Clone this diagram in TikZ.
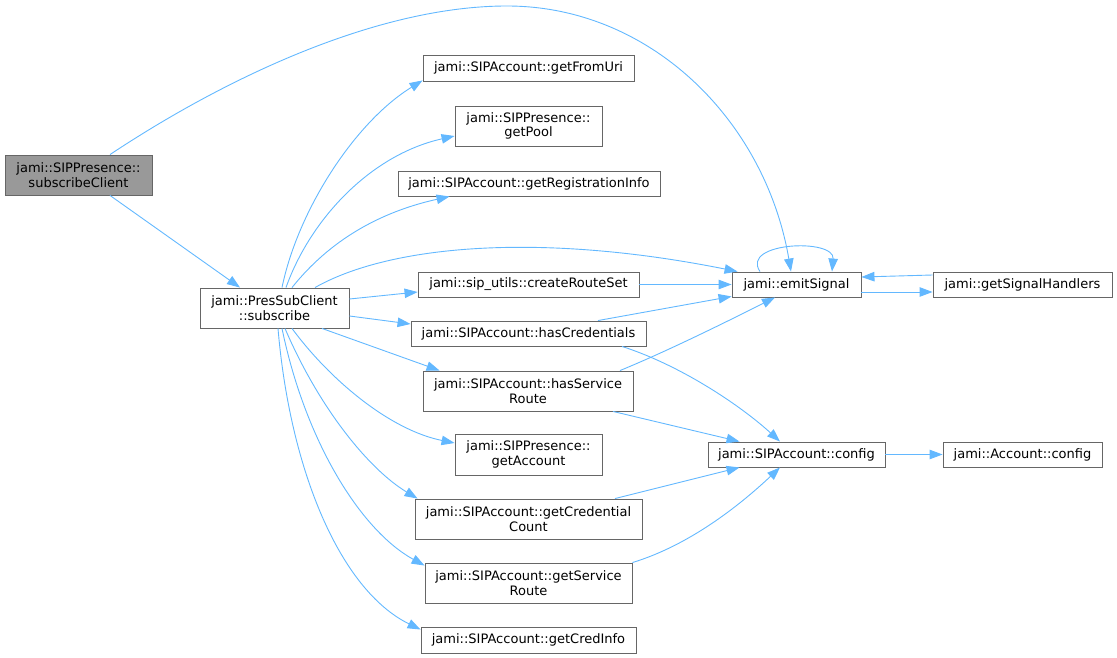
\documentclass[tikz,border=0pt]{standalone}
\usepackage{fontspec}
\setmainfont{DejaVu Sans}
\usetikzlibrary{arrows.meta}
\definecolor{edgeblue}{HTML}{63B8FF}
\definecolor{nodeborder}{HTML}{666666}
\definecolor{rootfill}{HTML}{999999}
\begin{document}
\begin{tikzpicture}[x=1pt,y=-1pt,
  box/.style={draw=nodeborder,line width=0.9pt,fill=white,inner sep=0pt,align=center,
    font=\fontsize{13}{14.5}\selectfont},
  edge/.style={draw=edgeblue,line width=0.9pt,-{Triangle[length=13pt,width=9.5pt]}}]
\useasboundingbox (0,0) rectangle (1117,658);
% nodes
\node[box,fill=rootfill,minimum width=147pt,minimum height=40pt] (A) at (78.5,175) {jami::SIPPresence::\\subscribeClient};
\node[box,minimum width=149pt,minimum height=40pt] (B) at (274.5,308) {jami::PresSubClient\\::subscribe};
\node[box,minimum width=211pt,minimum height=26pt] (C) at (528.5,68) {jami::SIPAccount::getFromUri};
\node[box,minimum width=147pt,minimum height=40pt] (D) at (528.5,126) {jami::SIPPresence::\\getPool};
\node[box,minimum width=262pt,minimum height=25pt] (E) at (529,183.5) {jami::SIPAccount::getRegistrationInfo};
\node[box,minimum width=221pt,minimum height=25pt] (F) at (528.5,284.5) {jami::sip\_utils::createRouteSet};
\node[box,minimum width=235pt,minimum height=25pt] (G) at (528.5,333.5) {jami::SIPAccount::hasCredentials};
\node[box,minimum width=210pt,minimum height=40pt] (H) at (528,391) {jami::SIPAccount::hasService\\Route};
\node[box,minimum width=147pt,minimum height=41pt] (I) at (528.5,454.5) {jami::SIPPresence::\\getAccount};
\node[box,minimum width=227pt,minimum height=40pt] (J) at (528.5,519) {jami::SIPAccount::getCredential\\Count};
\node[box,minimum width=207pt,minimum height=40pt] (K) at (528.5,583) {jami::SIPAccount::getService\\Route};
\node[box,minimum width=215pt,minimum height=26pt] (L) at (528.5,640) {jami::SIPAccount::getCredInfo};
\node[box,minimum width=129pt,minimum height=25pt] (M) at (796.5,284.5) {jami::emitSignal};
\node[box,minimum width=179pt,minimum height=25pt] (N) at (1022.5,284.5) {jami::getSignalHandlers};
\node[box,minimum width=177pt,minimum height=25pt] (O) at (796.5,454.5) {jami::SIPAccount::config};
\node[box,minimum width=159pt,minimum height=25pt] (P) at (1022.5,454.5) {jami::Account::config};
% edges
\draw[edge] ([xshift=31.5pt]A.north) .. controls (230,75) and (380,6) .. (507,6) .. controls (650,6) and (765,120) .. ([xshift=-5.5pt]M.north);
\draw[edge] ([xshift=31.5pt]A.south) -- ([xshift=-34.5pt]B.north);
\draw[edge] ([xshift=7.5pt]B.north) .. controls (298,210) and (355,122) .. ([yshift=1pt]C.south west);
\draw[edge] ([xshift=11.5pt]B.north) .. controls (310,220) and (370,155) .. ([yshift=-10pt]D.west);
\draw[edge] ([xshift=17.5pt]B.north) .. controls (330,240) and (380,212) .. ([xshift=52pt]E.south west);
\draw[edge] ([xshift=40.5pt]B.north) .. controls (390,245) and (540,232) .. ([xshift=6pt]M.north west);
\draw[edge] ([yshift=9pt]B.east) -- ([yshift=-7.5pt]F.west);
\draw[edge] ([yshift=-8pt]B.east) -- ([yshift=9.5pt]G.west);
\draw[edge] ([xshift=47.5pt]B.south) -- ([xshift=17pt]H.north west);
\draw[edge] ([xshift=17.5pt]B.south) .. controls (330,380) and (390,430) .. ([yshift=11.5pt]I.west);
\draw[edge] ([xshift=10.5pt]B.south) .. controls (320,410) and (370,470) .. ([xshift=3pt]J.north west);
\draw[edge] ([xshift=7.5pt]B.south) .. controls (305,440) and (360,530) .. ([yshift=-3pt]K.north west);
\draw[edge] ([xshift=3.5pt]B.south) .. controls (290,470) and (340,590) .. ([yshift=-3pt]L.north west);
\draw[edge] (F.east) -- (M.west);
\draw[edge] ([xshift=69.5pt]G.north) -- ([yshift=1pt]M.south west);
\draw[edge] ([xshift=92pt]H.north) .. controls (670,350) and (730,320) .. ([xshift=-21.5pt]M.south);
\draw[edge] ([xshift=93.5pt]G.south) .. controls (680,365) and (740,405) .. ([xshift=-16.5pt]O.north);
\draw[edge] ([xshift=85pt]H.south) -- ([xshift=32pt]O.north west);
\draw[edge] ([xshift=86.5pt]J.north) -- ([xshift=32pt]O.south west);
\draw[edge] (K.north east) .. controls (690,545) and (740,505) .. ([xshift=-16.5pt]O.south);
\draw[edge] ([xshift=-36.5pt]M.north) .. controls (740,242) and (835,238) .. ([xshift=35.5pt]M.north);
\draw[edge] ([yshift=-7.5pt]M.east) -- ([yshift=-7.5pt]N.west);
\draw[edge] ([yshift=9.5pt]N.west) -- ([yshift=7.5pt]M.east);
\draw[edge] (O.east) -- (P.west);
\end{tikzpicture}
\end{document}
